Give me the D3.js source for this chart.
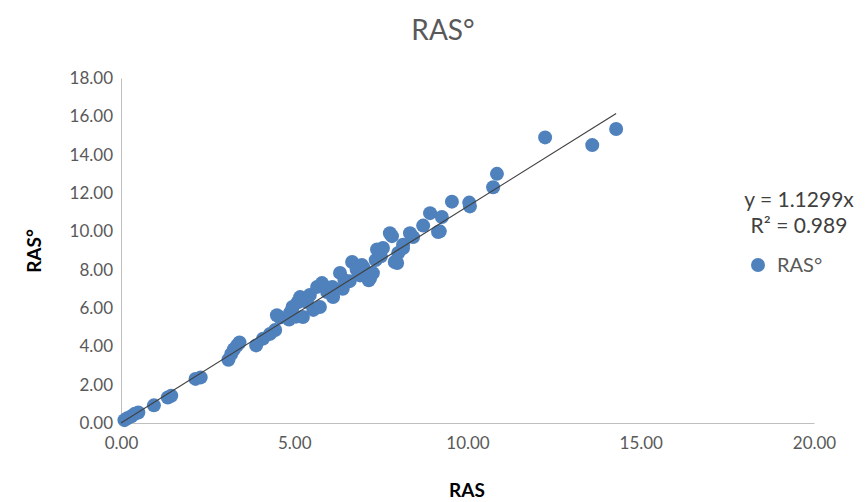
<!DOCTYPE html>
<html>
<head>
<meta charset="utf-8">
<script src="https://cdn.jsdelivr.net/npm/d3@7"></script>
<style>
  html, body { margin: 0; padding: 0; background: #fff; }
  svg { display: block; font-family: Lato, "Open Sans", sans-serif; }
</style>
</head>
<body>
<svg id="chart" width="867" height="502"></svg>
<script>
// RAS measurements (x) against RAS° (y)
const rasX = [0.10, 0.18, 0.30, 0.40, 0.50, 0.95, 1.35, 1.45, 2.15, 2.30,
  3.10, 3.18, 3.26, 3.35, 3.42, 3.90, 4.10, 4.30, 4.45,
  4.50, 4.59, 4.85, 4.88, 4.95, 5.05, 5.10, 5.17, 5.25, 5.37,
  5.45, 5.55, 5.66, 5.74, 5.80, 5.95, 6.12, 6.10, 6.32, 6.40,
  6.45, 6.67, 6.60, 6.80, 6.90, 6.95, 7.00, 7.15, 7.19, 7.27,
  7.39, 7.35, 7.50, 7.56, 7.76, 7.82, 7.97, 7.90, 8.00, 8.14,
  8.14, 8.34, 8.43, 8.72, 8.92, 9.15, 9.20, 9.26, 9.55, 10.05,
  10.07, 10.74, 10.85, 12.24, 13.60, 14.29];
const rasDeg = [0.15, 0.25, 0.35, 0.48, 0.55, 0.92, 1.33, 1.42, 2.30, 2.38,
  3.30, 3.60, 3.85, 4.05, 4.20, 4.05, 4.40, 4.65, 4.85,
  5.62, 5.50, 5.40, 5.76, 6.05, 5.55, 6.30, 6.57, 5.53, 6.31,
  6.68, 5.90, 7.10, 6.05, 7.30, 6.83, 6.57, 7.10, 7.83, 7.00,
  7.45, 8.40, 7.40, 8.00, 7.70, 8.25, 8.10, 7.45, 7.56, 7.82,
  9.05, 8.50, 8.70, 9.13, 9.90, 9.75, 8.35, 8.40, 8.87, 9.13,
  9.30, 9.90, 9.70, 10.30, 10.95, 9.96, 10.00, 10.75, 11.55, 11.50,
  11.30, 12.30, 13.00, 14.90, 14.50, 15.34];

const slope = 1.1299;
const rSquared = 0.989;
const xTicks = [0, 5, 10, 15, 20];
const yTicks = [0, 2, 4, 6, 8, 10, 12, 14, 16, 18];
const seriesName = "RAS°";

const svg = d3.select("#chart");
const x = d3.scaleLinear().domain([0, 20]).range([121, 814]);
const y = d3.scaleLinear().domain([0, 18]).range([423, 78]);

const textGray = "#595959";
const axisGray = "#bfbfbf";
const markBlue = "#4f81bd";

// title
svg.append("text").attr("x", 443).attr("y", 40).attr("text-anchor", "middle")
  .attr("font-size", 28).attr("fill", textGray).text("RAS°");

// x axis
const xAxis = svg.append("g").attr("transform", `translate(0,${y(0)})`)
  .call(d3.axisBottom(x).tickValues(xTicks).tickSize(0).tickPadding(14)
    .tickFormat(d3.format(".2f")));
xAxis.select(".domain").attr("stroke", axisGray);
xAxis.selectAll("text").attr("font-size", 17).attr("fill", textGray)
  .attr("font-family", "Lato, sans-serif");

// y axis
const yAxis = svg.append("g").attr("transform", `translate(${x(0)},0)`)
  .call(d3.axisLeft(y).tickValues(yTicks).tickSize(0).tickPadding(8)
    .tickFormat(d3.format(".2f")));
yAxis.select(".domain").attr("stroke", axisGray);
yAxis.selectAll("text").attr("font-size", 17).attr("fill", textGray)
  .attr("font-family", "Lato, sans-serif");

// axis titles
svg.append("text").attr("x", 467).attr("y", 497).attr("text-anchor", "middle")
  .attr("font-size", 19).attr("font-weight", "bold").attr("fill", "#000").text("RAS");
svg.append("text").attr("transform", "translate(41,251) rotate(-90)")
  .attr("text-anchor", "middle").attr("font-size", 19).attr("font-weight", "bold")
  .attr("fill", "#000").text("RAS°");

// points
const pts = rasX.map((v, i) => ({ x: v, y: rasDeg[i] }));
svg.append("g").selectAll("circle").data(pts).join("circle")
  .attr("cx", d => x(d.x)).attr("cy", d => y(d.y)).attr("r", 7)
  .attr("fill", markBlue);

// linear trendline through the origin
const xMax = d3.max(rasX);
svg.append("line")
  .attr("x1", x(0)).attr("y1", y(0))
  .attr("x2", x(xMax)).attr("y2", y(slope * xMax))
  .attr("stroke", "#404040").attr("stroke-width", 1.2);

// equation and legend
svg.append("text").attr("x", 799).attr("y", 207).attr("text-anchor", "middle")
  .attr("font-size", 21).attr("fill", "#404040").text(`y = ${slope}x`);
svg.append("text").attr("x", 799).attr("y", 233).attr("text-anchor", "middle")
  .attr("font-size", 21).attr("fill", "#404040").text(`R² = ${rSquared}`);
svg.append("circle").attr("cx", 758).attr("cy", 265).attr("r", 7).attr("fill", markBlue);
svg.append("text").attr("x", 777).attr("y", 272)
  .attr("font-size", 20).attr("fill", textGray).text(seriesName);
</script>
</body>
</html>
